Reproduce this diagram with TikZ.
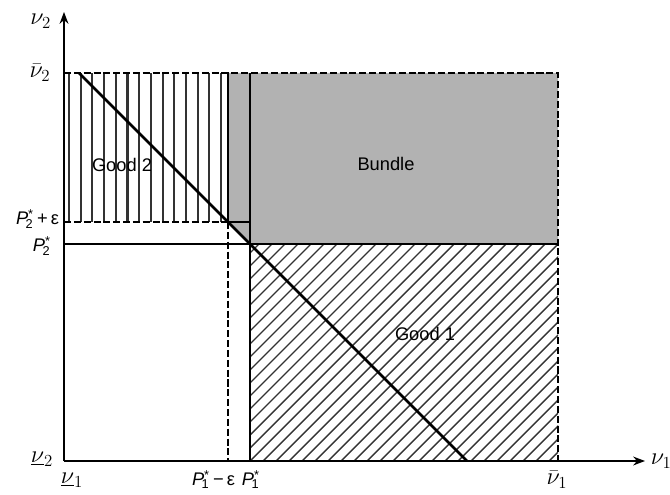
\documentclass[tikz,border=0pt]{standalone}
\usepackage{fontspec}
\setmainfont{Liberation Sans}
\usetikzlibrary{arrows.meta}
\newcommand{\pstar}[1]{\textit{P}\textsuperscript{*}\kern-0.45em\textsubscript{#1}\kern0.2em}
\begin{document}
\begin{tikzpicture}[x=0.025cm, y=0.025cm, >=Stealth,
    lbl/.style={font=\fontsize{13}{15}\selectfont, inner sep=0.5pt},
    mlbl/.style={font=\fontsize{18}{20}\selectfont, inner sep=0.5pt},
    dashline/.style={line width=1.2pt, dash pattern=on 5pt off 2pt},
    stripe/.style={black!80, line width=1.5pt}]
    \useasboundingbox (0,0) rectangle (670,494);

    % shaded bundle region
    \fill[gray!60] (228,421) -- (558,421) -- (558,250) -- (250,250)
        -- (228,272) -- cycle;

    % good 2: vertical stripes
    \begin{scope}
        \clip (64,272) rectangle (228,421);
        \foreach \i in {0,...,13}
            \draw[stripe] (69+11.7*\i,272) -- (69+11.7*\i,421);
    \end{scope}

    % good 1: diagonal hatching
    \begin{scope}
        \clip (250,33) rectangle (558,250);
        \foreach \i in {-17,...,24}
            \draw[stripe, line width=1pt] (250+13*\i,33) -- ++(220,220);
    \end{scope}

    % axes
    \draw[->, line width=1.2pt] (64,33) -- (645,33) node[mlbl, anchor=west, xshift=3pt] (nu1) {$\nu_1$};
    \draw[->, line width=1.2pt] (64,33) -- (64,482) node[mlbl, anchor=east, xshift=-8pt, pos=0.98] (nu2) {$\nu_2$};

    % borders
    \draw[dashline] (64,421) -- (558,421) -- (558,33);
    \draw[dashline] (64,272) -- (228,272);
    \draw[line width=1pt] (228,272) -- (250,272);
    \draw[line width=1pt] (228,421) -- (228,272);
    \draw[dashline] (228,272) -- (228,33);
    \draw[line width=1.6pt] (250,421) -- (250,33);
    \draw[line width=1.6pt] (64,250) -- (558,250);

    % diagonal
    \draw[line width=1.8pt] (79,421) -- (467,33);

    % region labels
    \node[lbl] (good2) at (122,329) {Good 2};
    \node[lbl] (bundle) at (386,330) {Bundle};
    \node[lbl] (good1) at (425,160) {Good 1};

    % tick labels
    \node[mlbl] (v2bar) at (40,421) {$\bar{\nu}_2$};
    \node[lbl, anchor=east] (p2e) at (60,275) {\pstar{2}+\,ε};
    \node[lbl, anchor=east] (p2) at (55,248) {\pstar{2}};
    \node[mlbl] (v2low) at (42,35) {$\underline{\nu}_2$};
    \node[mlbl] (v1low) at (72,14) {$\underline{\nu}_1$};
    \node[lbl, anchor=east] (p1e) at (236,14) {\pstar{1}−\,ε};
    \node[lbl, anchor=west] (p1) at (241,14) {\pstar{1}};
    \node[mlbl] (v1bar) at (557,14) {$\bar{\nu}_1$};
\end{tikzpicture}
\end{document}
